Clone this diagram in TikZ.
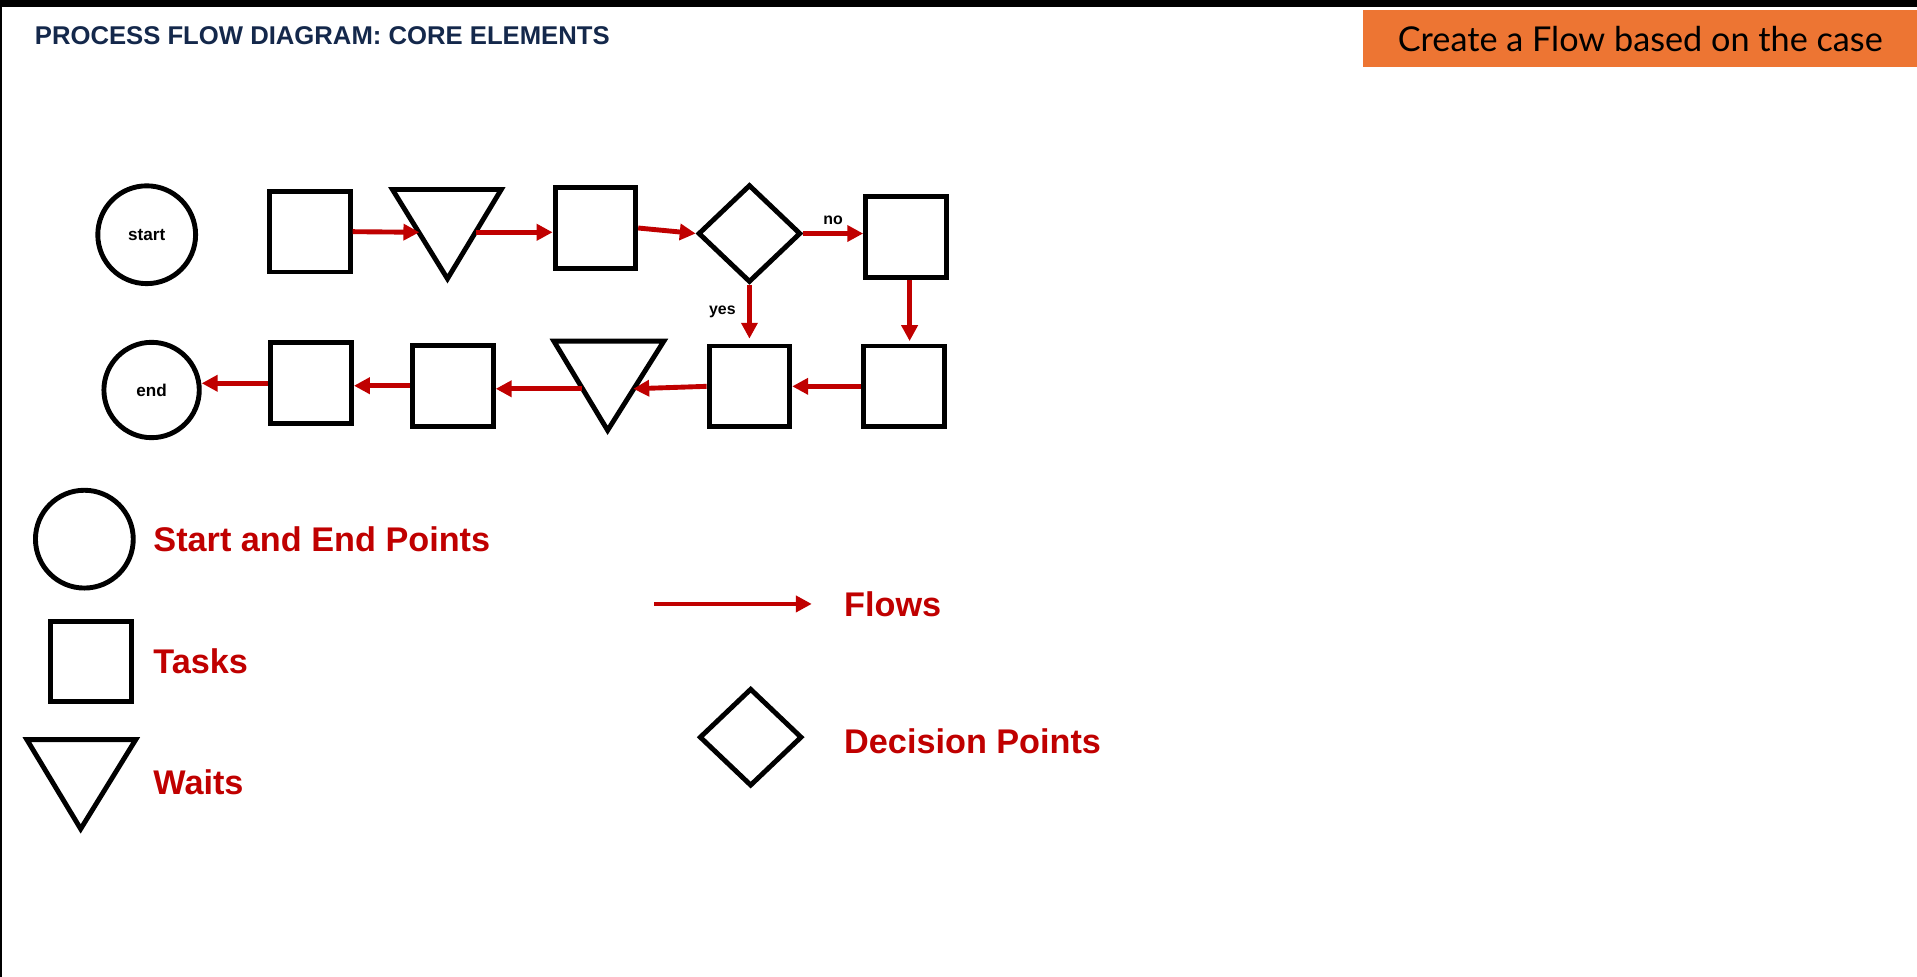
\documentclass[tikz,border=0pt]{standalone}
\usepackage{fontspec}
\setmainfont{Liberation Sans}
\newfontfamily\latofont{Lato}
\usetikzlibrary{arrows.meta,shapes.geometric}
\definecolor{flowred}{HTML}{C00000}
\definecolor{navy}{HTML}{14284B}
\definecolor{orangebox}{HTML}{ED7533}
\begin{document}
\begin{tikzpicture}[x=1pt,y=-1pt,
  shp/.style={draw=black,line width=4pt},
  task/.style={shp,minimum size=66pt,inner sep=0pt},
  ring/.style={shp,circle,inner sep=0pt,font=\bfseries\fontsize{14}{16}\selectfont},
  dec/.style={shp,diamond,minimum width=84pt,minimum height=80pt,inner sep=0pt},
  flow/.style={draw=flowred,line width=4pt,-{Triangle[length=13pt,width=13pt]}},
  lbl/.style={font=\bfseries\fontsize{13}{15}\selectfont},
  leg/.style={anchor=west,text=flowred,font=\bfseries\fontsize{28}{32}\selectfont}]
\useasboundingbox (0,0) rectangle (1568,799);
\fill[white] (0,0) rectangle (1568,799);
\fill[black] (0,0) rectangle (1568,6);
\fill[black] (0,0) rectangle (2,799);
\node[anchor=west,text=navy,font=\bfseries\fontsize{21}{24}\selectfont] (title) at (25,29) {PROCESS FLOW DIAGRAM: CORE ELEMENTS};
\node[fill=orangebox,minimum width=453pt,minimum height=47pt,anchor=north west,inner sep=0pt,font=\latofont\fontsize{28}{32}\selectfont] (case) at (1115,8) {Create a Flow based on the case};
% row 1
\node[ring,minimum size=80pt] (start) at (120,192) {start};
\node[task] (s1) at (253.5,189.5) {};
\draw[shp,line join=miter] (321,155) -- (410,155) -- (366,228) -- cycle;
\coordinate (t1l) at (343,190); \coordinate (t1r) at (389,190);
\node[task] (s2) at (487,186.5) {};
\node[dec] (d) at (613,191) {};
\node[task] (s3) at (741,194) {};
% row 2
\node[task] (s4) at (739.5,316) {};
\node[task] (s5) at (613,316) {};
\draw[shp,line join=miter] (453,279) -- (543,279) -- (497,352) -- cycle;
\coordinate (t2r) at (518,318); \coordinate (t2l) at (476,318);
\node[task] (s6) at (370.5,315.5) {};
\node[task] (s7) at (254.5,313.5) {};
\node[ring,minimum size=78pt] (end) at (124,319) {end};
% flows
\draw[flow] (s1.east) -- (t1l);
\draw[flow] (t1r) -- (s2.west|-t1r);
\draw[flow] (s2.east) -- (d.west);
\draw[flow] (d.east) -- (d.east-|s3.west) node[lbl,midway,above=2pt,text=black] (no) {no};
\draw[flow] (s3.south-|744,0) -- (744,279);
\draw[flow] (d.south) -- (613,277) node[lbl,pos=0.5,left=6pt,text=black] (yes) {yes};
\draw[flow] (s4.west) -- (s5.east);
\draw[flow] (s5.west) -- (t2r);
\draw[flow] (t2l) -- (t2l-|s6.east);
\draw[flow] (s6.west) -- (s6.west-|s7.east);
\draw[flow] (s7.west) -- (s7.west-|end.east);
% legend
\node[ring,minimum size=80pt] (lc) at (69,441) {};
\node[leg] (lct) at (122,441) {Start and End Points};
\node[task] (ls) at (74.5,541) {};
\node[leg] (lst) at (122,541) {Tasks};
\draw[shp,line join=miter] (22,605) -- (111,605) -- (66,678) -- cycle;
\node[leg] (ltt) at (122,640) {Waits};
\coordinate (fa) at (535,494); \coordinate (fb) at (664,494);
\draw[flow] (fa) -- (fb);
\node[leg] (lft) at (687,494) {Flows};
\node[dec] (ld) at (614,603) {};
\node[leg] (ldt) at (687,606) {Decision Points};
\end{tikzpicture}
\end{document}
